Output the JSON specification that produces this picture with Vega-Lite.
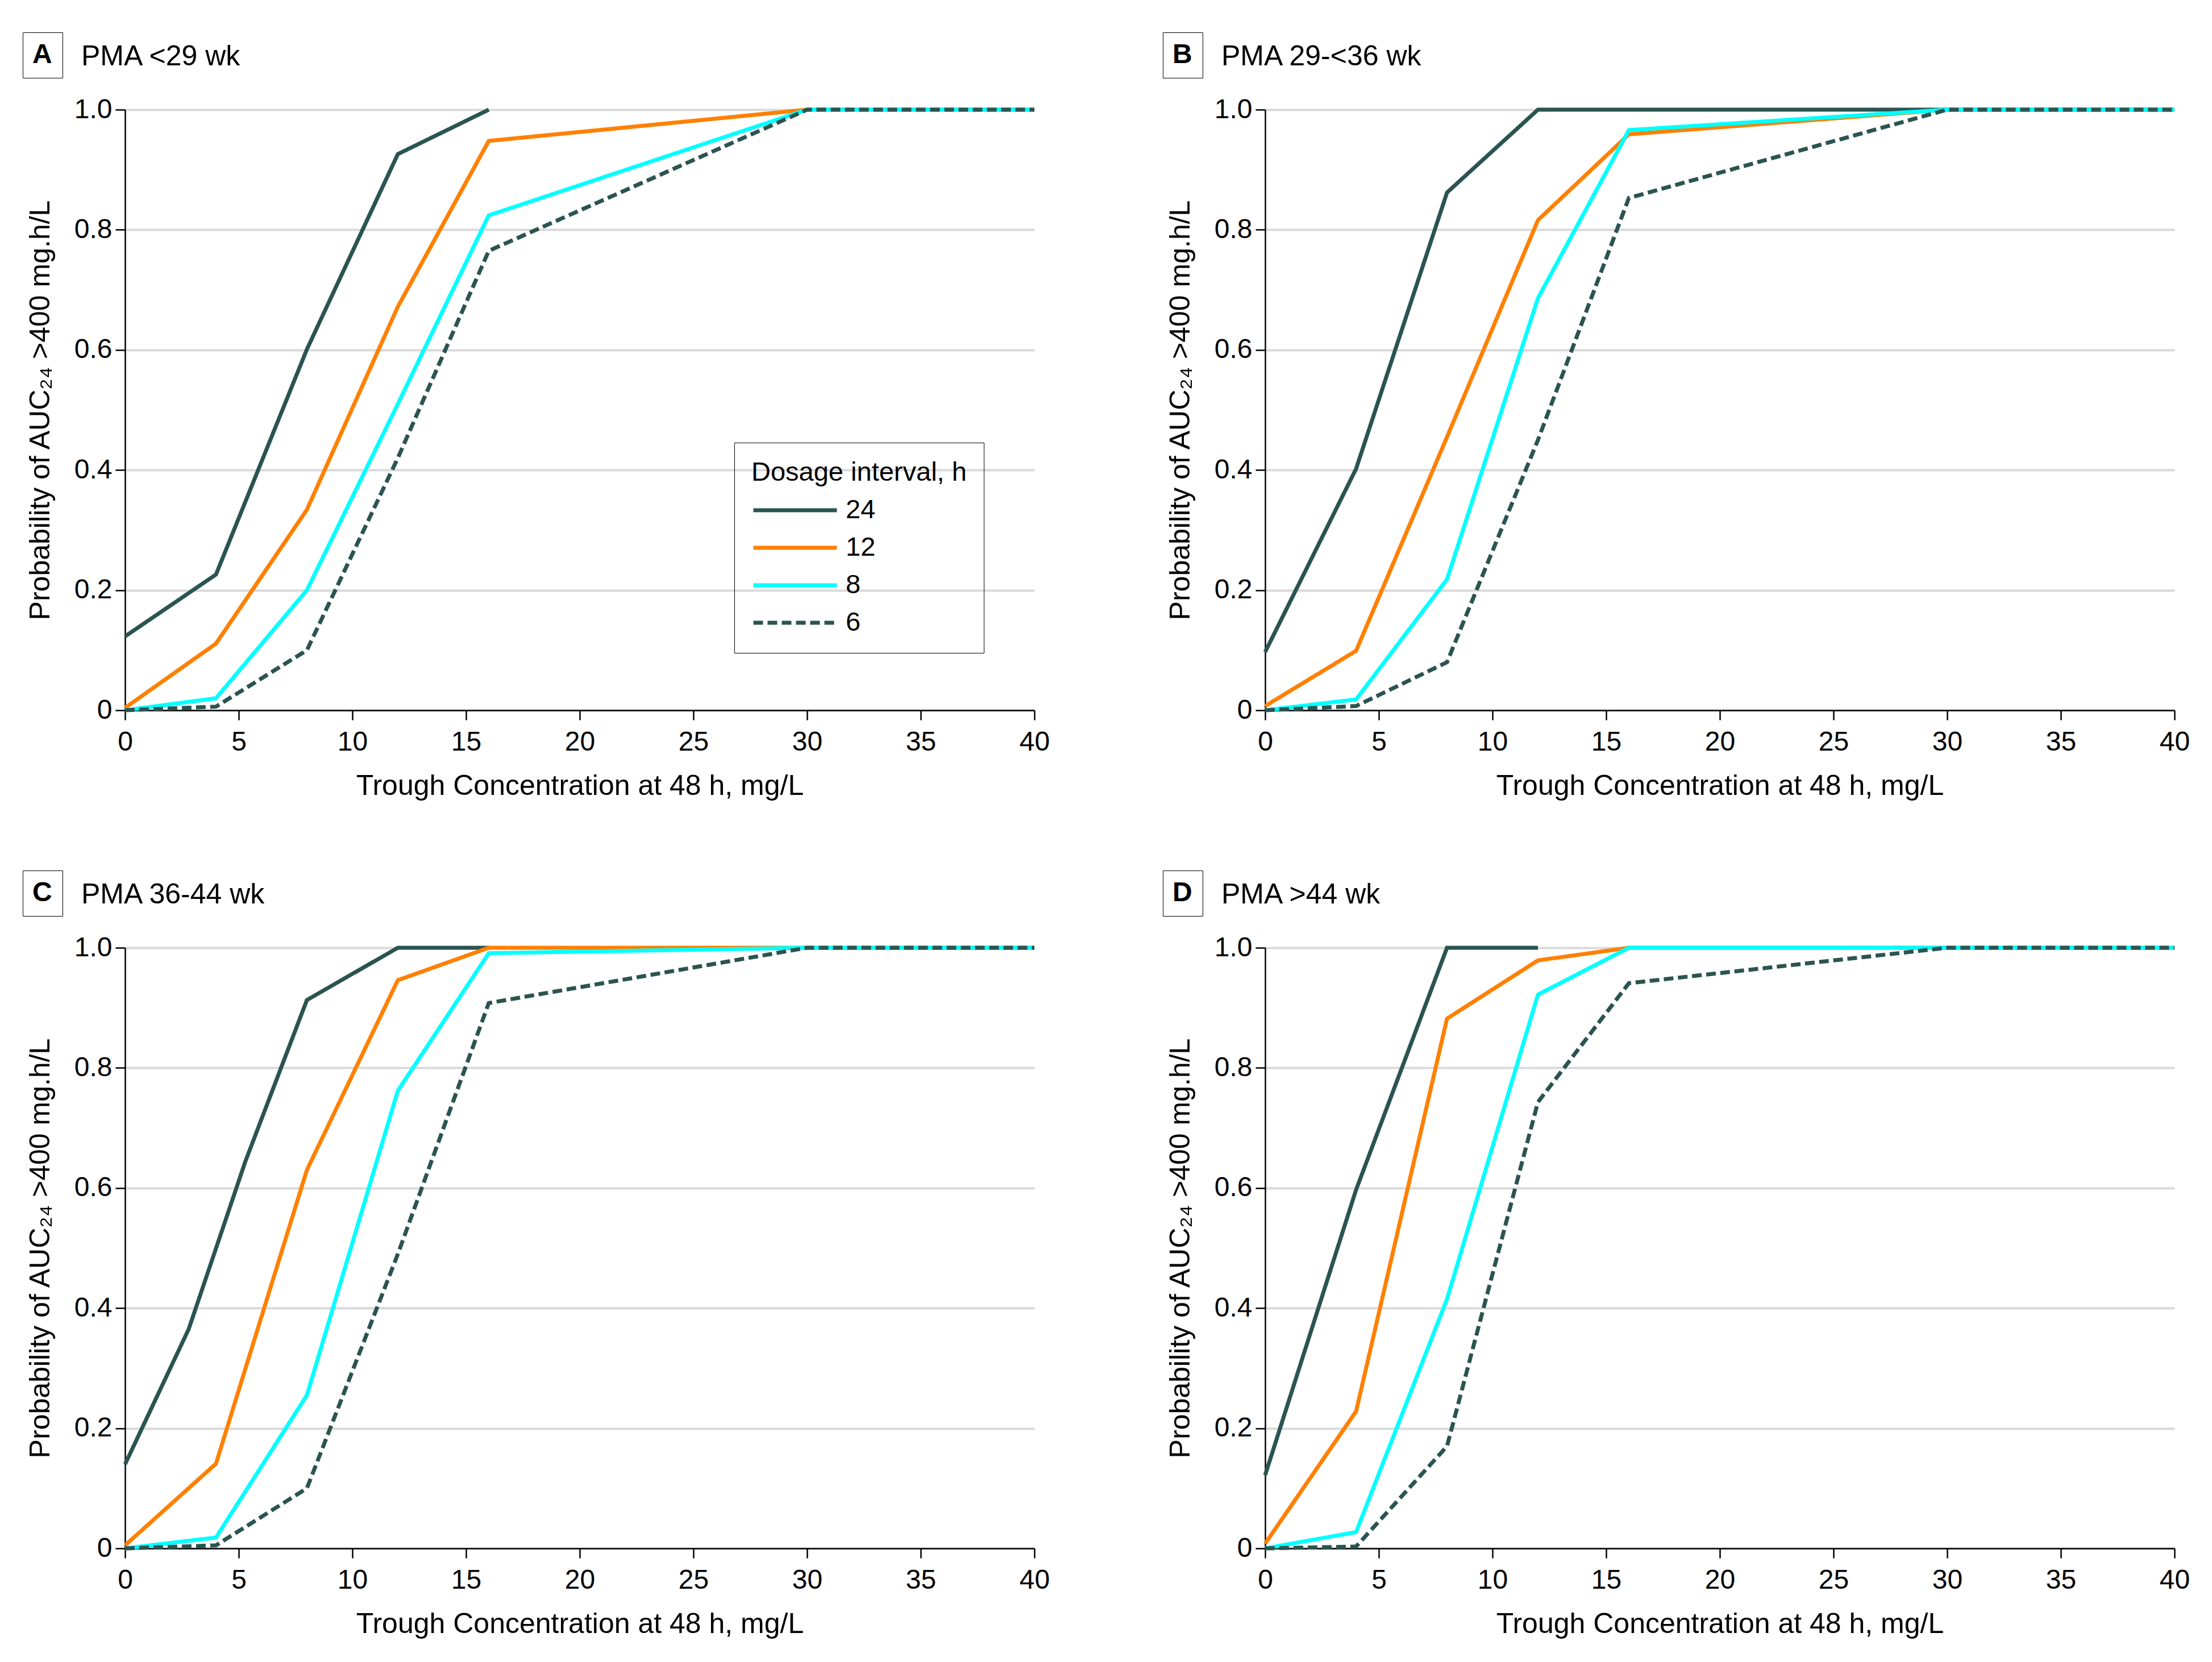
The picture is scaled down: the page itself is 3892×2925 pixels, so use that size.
{
  "$schema": "https://vega.github.io/schema/vega-lite/v6.json",
  "padding": {"left": 39, "top": 56, "right": 20, "bottom": 10},
  "background": "white",
  "config": {
    "font": "Liberation Sans",
    "view": {"stroke": null},
    "axis": {
      "labelFont": "Liberation Sans", "labelFontSize": 48, "labelColor": "black", "labelFlush": false,
      "titleFont": "Liberation Sans", "titleFontSize": 50, "titleFontWeight": "normal", "titleColor": "black",
      "domainColor": "black", "domainWidth": 2.5, "tickColor": "black", "tickWidth": 2.5, "tickSize": 17
    },
    "axisX": {"labelPadding": 15, "titlePadding": 28},
    "axisY": {"labelPadding": 6, "titlePadding": 34},
    "title": {"font": "Liberation Sans", "fontSize": 50, "fontWeight": "normal", "color": "black", "anchor": "start", "frame": "group", "dx": -77, "baseline": "alphabetic", "offset": -68},
    "line": {"strokeWidth": 7}
  },
  "data": {"values": [
    {"p":"A","h":"24","x":0,"y":0.123},{"p":"A","h":"24","x":4,"y":0.226},{"p":"A","h":"24","x":8,"y":0.601},{"p":"A","h":"24","x":12,"y":0.926},{"p":"A","h":"24","x":16,"y":1.0},
    {"p":"A","h":"12","x":0,"y":0.004},{"p":"A","h":"12","x":4,"y":0.111},{"p":"A","h":"12","x":8,"y":0.334},{"p":"A","h":"12","x":12,"y":0.672},{"p":"A","h":"12","x":16,"y":0.948},{"p":"A","h":"12","x":30,"y":1.0},{"p":"A","h":"12","x":40,"y":1.0},
    {"p":"A","h":"8","x":0,"y":0},{"p":"A","h":"8","x":4,"y":0.02},{"p":"A","h":"8","x":8,"y":0.2},{"p":"A","h":"8","x":12,"y":0.51},{"p":"A","h":"8","x":16,"y":0.824},{"p":"A","h":"8","x":30,"y":1.0},{"p":"A","h":"8","x":40,"y":1.0},
    {"p":"A","h":"6","x":0,"y":0},{"p":"A","h":"6","x":4,"y":0.006},{"p":"A","h":"6","x":8,"y":0.1},{"p":"A","h":"6","x":12,"y":0.42},{"p":"A","h":"6","x":16,"y":0.765},{"p":"A","h":"6","x":30,"y":1.0},{"p":"A","h":"6","x":40,"y":1.0},

    {"p":"B","h":"24","x":0,"y":0.097},{"p":"B","h":"24","x":4,"y":0.402},{"p":"B","h":"24","x":8,"y":0.862},{"p":"B","h":"24","x":12,"y":1.0},{"p":"B","h":"24","x":40,"y":1.0},
    {"p":"B","h":"12","x":0,"y":0.007},{"p":"B","h":"12","x":4,"y":0.099},{"p":"B","h":"12","x":8,"y":0.455},{"p":"B","h":"12","x":12,"y":0.816},{"p":"B","h":"12","x":16,"y":0.959},{"p":"B","h":"12","x":30,"y":1.0},{"p":"B","h":"12","x":40,"y":1.0},
    {"p":"B","h":"8","x":0,"y":0},{"p":"B","h":"8","x":4,"y":0.018},{"p":"B","h":"8","x":8,"y":0.218},{"p":"B","h":"8","x":12,"y":0.686},{"p":"B","h":"8","x":16,"y":0.966},{"p":"B","h":"8","x":30,"y":1.0},{"p":"B","h":"8","x":40,"y":1.0},
    {"p":"B","h":"6","x":0,"y":0},{"p":"B","h":"6","x":4,"y":0.007},{"p":"B","h":"6","x":8,"y":0.08},{"p":"B","h":"6","x":12,"y":0.45},{"p":"B","h":"6","x":16,"y":0.853},{"p":"B","h":"6","x":30,"y":1.0},{"p":"B","h":"6","x":40,"y":1.0},

    {"p":"C","h":"24","x":0,"y":0.14},{"p":"C","h":"24","x":2.8,"y":0.365},{"p":"C","h":"24","x":5.3,"y":0.645},{"p":"C","h":"24","x":8,"y":0.913},{"p":"C","h":"24","x":12,"y":1.0},{"p":"C","h":"24","x":16,"y":1.0},
    {"p":"C","h":"12","x":0,"y":0.005},{"p":"C","h":"12","x":4,"y":0.141},{"p":"C","h":"12","x":8,"y":0.63},{"p":"C","h":"12","x":12,"y":0.946},{"p":"C","h":"12","x":16,"y":1.0},{"p":"C","h":"12","x":40,"y":1.0},
    {"p":"C","h":"8","x":0,"y":0},{"p":"C","h":"8","x":4,"y":0.018},{"p":"C","h":"8","x":8,"y":0.255},{"p":"C","h":"8","x":12,"y":0.762},{"p":"C","h":"8","x":16,"y":0.991},{"p":"C","h":"8","x":30,"y":1.0},{"p":"C","h":"8","x":40,"y":1.0},
    {"p":"C","h":"6","x":0,"y":0},{"p":"C","h":"6","x":4,"y":0.005},{"p":"C","h":"6","x":8,"y":0.1},{"p":"C","h":"6","x":12,"y":0.49},{"p":"C","h":"6","x":16,"y":0.908},{"p":"C","h":"6","x":30,"y":1.0},{"p":"C","h":"6","x":40,"y":1.0},

    {"p":"D","h":"24","x":0,"y":0.122},{"p":"D","h":"24","x":4,"y":0.597},{"p":"D","h":"24","x":8,"y":1.0},{"p":"D","h":"24","x":12,"y":1.0},
    {"p":"D","h":"12","x":0,"y":0.008},{"p":"D","h":"12","x":4,"y":0.228},{"p":"D","h":"12","x":8,"y":0.882},{"p":"D","h":"12","x":12,"y":0.979},{"p":"D","h":"12","x":16,"y":1.0},{"p":"D","h":"12","x":40,"y":1.0},
    {"p":"D","h":"8","x":0,"y":0},{"p":"D","h":"8","x":4,"y":0.027},{"p":"D","h":"8","x":8,"y":0.415},{"p":"D","h":"8","x":12,"y":0.922},{"p":"D","h":"8","x":16,"y":1.0},{"p":"D","h":"8","x":40,"y":1.0},
    {"p":"D","h":"6","x":0,"y":0},{"p":"D","h":"6","x":4,"y":0.003},{"p":"D","h":"6","x":8,"y":0.17},{"p":"D","h":"6","x":12,"y":0.743},{"p":"D","h":"6","x":16,"y":0.941},{"p":"D","h":"6","x":30,"y":1.0},{"p":"D","h":"6","x":40,"y":1.0}
  ]},
  "resolve": {"scale": {"color": "independent", "strokeDash": "independent", "opacity": "independent"}, "legend": {"color": "independent", "strokeDash": "independent", "opacity": "independent"}},
  "spacing": 123,
  "vconcat": [
    {
      "spacing": 198,
      "resolve": {"scale": {"color": "independent", "strokeDash": "independent", "opacity": "independent"}, "legend": {"color": "independent", "strokeDash": "independent", "opacity": "independent"}},
      "hconcat": [
        {
          "width": 1600, "height": 1057,
          "title": {"text": "PMA <29 wk"},
          "transform": [{"filter": "datum.p == 'A'"}],
          "mark": {"type": "line"},
          "encoding": {
            "x": {"field": "x", "type": "quantitative", "scale": {"domain": [0, 40], "nice": false}, "axis": {"values": [0,5,10,15,20,25,30,35,40], "grid": false, "title": "Trough Concentration at 48 h, mg/L"}},
            "y": {"field": "y", "type": "quantitative", "scale": {"domain": [0, 1], "nice": false}, "axis": {"values": [0,0.2,0.4,0.6,0.8,1], "labelExpr": "datum.value == 0 ? '0' : format(datum.value, '.1f')", "grid": true, "gridColor": "#d9d9d9", "gridWidth": 4, "title": "Probability of AUC₂₄ >400 mg.h/L"}},
            "color": {"field": "h", "type": "nominal", "scale": {"domain": ["24","12","8","6"], "range": ["#2B5451","#FF8000","#00FFFF","#2B5451"]},
              "legend": {"orient": "none", "legendX": 1072, "legendY": 586, "title": "Dosage interval, h", "titleFontSize": 47, "titleFontWeight": "normal", "titleColor": "black", "titleFont": "Liberation Sans", "titlePadding": 14, "titleLimit": 2000, "labelFontSize": 47, "labelColor": "black", "labelFont": "Liberation Sans", "symbolType": "M-1,0H5", "symbolSize": 2401, "symbolStrokeWidth": 7, "padding": 30, "strokeColor": "black", "rowPadding": 15, "labelOffset": 110,
                "encode": {"legend": {"update": {"strokeWidth": {"value": 3}}}}}},
            "strokeDash": {"field": "h", "type": "nominal", "scale": {"domain": ["24","12","8","6"], "range": [[1,0],[1,0],[1,0],[17,8]]},
              "legend": {"orient": "none", "legendX": 1072, "legendY": 586, "title": "Dosage interval, h", "titleFontSize": 47, "titleFontWeight": "normal", "titleColor": "black", "titleFont": "Liberation Sans", "titlePadding": 14, "titleLimit": 2000, "labelFontSize": 47, "labelColor": "black", "labelFont": "Liberation Sans", "symbolType": "M-1,0H5", "symbolSize": 2401, "symbolStrokeWidth": 7, "padding": 30, "strokeColor": "black", "rowPadding": 15, "labelOffset": 110,
                "encode": {"legend": {"update": {"strokeWidth": {"value": 3}}}}}},
            "opacity": {"field": "p", "type": "nominal", "scale": {"range": [1, 1]}, "legend": {"orient": "none", "legendX": -180, "legendY": -136, "title": null, "strokeColor": "black", "padding": 16, "symbolSize": 0, "symbolOpacity": 0, "symbolStrokeWidth": 0, "labelOffset": -47, "labelFontSize": 48, "labelFontWeight": "bold", "labelColor": "black", "labelFont": "Liberation Sans", "encode": {"legend": {"update": {"strokeWidth": {"value": 3}}}}}}
          }
        },
        {
          "width": 1600, "height": 1057,
          "title": {"text": "PMA 29-<36 wk"},
          "transform": [{"filter": "datum.p == 'B'"}],
          "mark": {"type": "line"},
          "encoding": {
            "x": {"field": "x", "type": "quantitative", "scale": {"domain": [0, 40], "nice": false}, "axis": {"values": [0,5,10,15,20,25,30,35,40], "grid": false, "title": "Trough Concentration at 48 h, mg/L"}},
            "y": {"field": "y", "type": "quantitative", "scale": {"domain": [0, 1], "nice": false}, "axis": {"values": [0,0.2,0.4,0.6,0.8,1], "labelExpr": "datum.value == 0 ? '0' : format(datum.value, '.1f')", "grid": true, "gridColor": "#d9d9d9", "gridWidth": 4, "title": "Probability of AUC₂₄ >400 mg.h/L"}},
            "color": {"field": "h", "type": "nominal", "scale": {"domain": ["24","12","8","6"], "range": ["#2B5451","#FF8000","#00FFFF","#2B5451"]}, "legend": null},
            "strokeDash": {"field": "h", "type": "nominal", "scale": {"domain": ["24","12","8","6"], "range": [[1,0],[1,0],[1,0],[17,8]]}, "legend": null},
            "opacity": {"field": "p", "type": "nominal", "scale": {"range": [1, 1]}, "legend": {"orient": "none", "legendX": -180, "legendY": -136, "title": null, "strokeColor": "black", "padding": 16, "symbolSize": 0, "symbolOpacity": 0, "symbolStrokeWidth": 0, "labelOffset": -47, "labelFontSize": 48, "labelFontWeight": "bold", "labelColor": "black", "labelFont": "Liberation Sans", "encode": {"legend": {"update": {"strokeWidth": {"value": 3}}}}}}
          }
        }
      ]
    },
    {
      "spacing": 198,
      "resolve": {"scale": {"color": "independent", "strokeDash": "independent", "opacity": "independent"}, "legend": {"color": "independent", "strokeDash": "independent", "opacity": "independent"}},
      "hconcat": [
        {
          "width": 1600, "height": 1057,
          "title": {"text": "PMA 36-44 wk"},
          "transform": [{"filter": "datum.p == 'C'"}],
          "mark": {"type": "line"},
          "encoding": {
            "x": {"field": "x", "type": "quantitative", "scale": {"domain": [0, 40], "nice": false}, "axis": {"values": [0,5,10,15,20,25,30,35,40], "grid": false, "title": "Trough Concentration at 48 h, mg/L"}},
            "y": {"field": "y", "type": "quantitative", "scale": {"domain": [0, 1], "nice": false}, "axis": {"values": [0,0.2,0.4,0.6,0.8,1], "labelExpr": "datum.value == 0 ? '0' : format(datum.value, '.1f')", "grid": true, "gridColor": "#d9d9d9", "gridWidth": 4, "title": "Probability of AUC₂₄ >400 mg.h/L"}},
            "color": {"field": "h", "type": "nominal", "scale": {"domain": ["24","12","8","6"], "range": ["#2B5451","#FF8000","#00FFFF","#2B5451"]}, "legend": null},
            "strokeDash": {"field": "h", "type": "nominal", "scale": {"domain": ["24","12","8","6"], "range": [[1,0],[1,0],[1,0],[17,8]]}, "legend": null},
            "opacity": {"field": "p", "type": "nominal", "scale": {"range": [1, 1]}, "legend": {"orient": "none", "legendX": -180, "legendY": -136, "title": null, "strokeColor": "black", "padding": 16, "symbolSize": 0, "symbolOpacity": 0, "symbolStrokeWidth": 0, "labelOffset": -47, "labelFontSize": 48, "labelFontWeight": "bold", "labelColor": "black", "labelFont": "Liberation Sans", "encode": {"legend": {"update": {"strokeWidth": {"value": 3}}}}}}
          }
        },
        {
          "width": 1600, "height": 1057,
          "title": {"text": "PMA >44 wk"},
          "transform": [{"filter": "datum.p == 'D'"}],
          "mark": {"type": "line"},
          "encoding": {
            "x": {"field": "x", "type": "quantitative", "scale": {"domain": [0, 40], "nice": false}, "axis": {"values": [0,5,10,15,20,25,30,35,40], "grid": false, "title": "Trough Concentration at 48 h, mg/L"}},
            "y": {"field": "y", "type": "quantitative", "scale": {"domain": [0, 1], "nice": false}, "axis": {"values": [0,0.2,0.4,0.6,0.8,1], "labelExpr": "datum.value == 0 ? '0' : format(datum.value, '.1f')", "grid": true, "gridColor": "#d9d9d9", "gridWidth": 4, "title": "Probability of AUC₂₄ >400 mg.h/L"}},
            "color": {"field": "h", "type": "nominal", "scale": {"domain": ["24","12","8","6"], "range": ["#2B5451","#FF8000","#00FFFF","#2B5451"]}, "legend": null},
            "strokeDash": {"field": "h", "type": "nominal", "scale": {"domain": ["24","12","8","6"], "range": [[1,0],[1,0],[1,0],[17,8]]}, "legend": null},
            "opacity": {"field": "p", "type": "nominal", "scale": {"range": [1, 1]}, "legend": {"orient": "none", "legendX": -180, "legendY": -136, "title": null, "strokeColor": "black", "padding": 16, "symbolSize": 0, "symbolOpacity": 0, "symbolStrokeWidth": 0, "labelOffset": -47, "labelFontSize": 48, "labelFontWeight": "bold", "labelColor": "black", "labelFont": "Liberation Sans", "encode": {"legend": {"update": {"strokeWidth": {"value": 3}}}}}}
          }
        }
      ]
    }
  ]
}
